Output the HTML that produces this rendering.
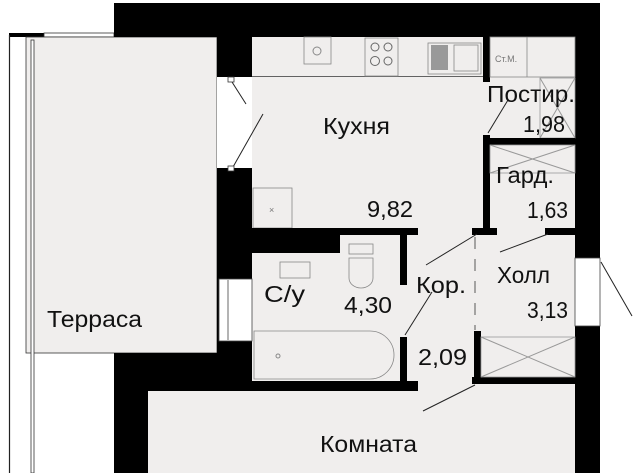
<!DOCTYPE html>
<html><head><meta charset="utf-8"><style>
html,body{margin:0;padding:0;background:#fff;}
svg{display:block}
text{font-family:"Liberation Sans",sans-serif;fill:#111;font-size:23px}
</style></head><body>
<svg width="640" height="473" viewBox="0 0 640 473" xmlns="http://www.w3.org/2000/svg">
<!-- terrace -->
<rect x="9" y="33" width="105" height="4" fill="#000"/>
<rect x="44" y="33" width="70" height="4" fill="#fff" stroke="#333" stroke-width="0.8"/>
<line x1="9.5" y1="35" x2="9.5" y2="473" stroke="#222" stroke-width="1.2"/>
<rect x="26" y="37" width="191" height="316" fill="#f0eeed" stroke="#333" stroke-width="0.8"/>
<rect x="31" y="40" width="3" height="433" fill="#fff" stroke="#333" stroke-width="0.8"/>
<!-- rooms fill -->
<rect x="252" y="37" width="323" height="436" fill="#f0eeed"/>
<rect x="148" y="384" width="427" height="89" fill="#f0eeed"/>
<!-- top wall -->
<rect x="114" y="3" width="486" height="34" fill="#000"/>
<!-- right wall -->
<rect x="575" y="3" width="25" height="255" fill="#000"/>
<rect x="575" y="326" width="25" height="147" fill="#000"/>
<rect x="575" y="258" width="25" height="68" fill="#fff" stroke="#444" stroke-width="0.8"/>
<line x1="601" y1="262" x2="632" y2="316" stroke="#222" stroke-width="1"/>
<!-- kitchen left wall -->
<rect x="217" y="37" width="35" height="40" fill="#000"/>
<rect x="217" y="168" width="35" height="185" fill="#000"/>
<rect x="217" y="77" width="35" height="91" fill="#fff"/>
<line x1="232" y1="82" x2="246" y2="104" stroke="#222" stroke-width="1"/>
<line x1="233" y1="167" x2="263" y2="114" stroke="#222" stroke-width="1"/>
<rect x="228" y="77" width="6" height="5" fill="#fff" stroke="#333" stroke-width="0.8"/>
<rect x="228" y="166" width="6" height="5" fill="#fff" stroke="#333" stroke-width="0.8"/>
<!-- bathroom window -->
<rect x="219" y="279" width="33" height="62" fill="#fff" stroke="#444" stroke-width="0.8"/>
<line x1="228" y1="280" x2="228" y2="340" stroke="#444" stroke-width="0.8"/>
<!-- lower left wall -->
<rect x="114" y="353" width="138" height="38" fill="#000"/>
<rect x="114" y="353" width="34" height="120" fill="#000"/>
<!-- kitchen counter -->
<line x1="252" y1="76.5" x2="483" y2="76.5" stroke="#333" stroke-width="0.8"/>
<rect x="304" y="37" width="27" height="27" fill="none" stroke="#888" stroke-width="0.8"/>
<circle cx="317" cy="51" r="4" fill="none" stroke="#888"/>
<rect x="365" y="38" width="33" height="38" fill="none" stroke="#888" stroke-width="0.8"/>
<circle cx="375" cy="47" r="4" fill="none" stroke="#666"/><circle cx="388" cy="47" r="4" fill="none" stroke="#666"/>
<circle cx="375" cy="61" r="4.5" fill="none" stroke="#666"/><circle cx="388" cy="61" r="4" fill="none" stroke="#666"/>
<rect x="428" y="43" width="53" height="31" fill="none" stroke="#888" stroke-width="0.8"/>
<rect x="431" y="45" width="17" height="25" fill="#999"/>
<rect x="454" y="45" width="24" height="26" fill="none" stroke="#888" stroke-width="0.8"/>
<rect x="253" y="188" width="39" height="40" fill="none" stroke="#888" stroke-width="0.8"/>
<text x="269" y="213" style="font-size:9px;fill:#777">×</text>
<!-- kitchen/postir wall -->
<rect x="483" y="37" width="7" height="45" fill="#000"/>
<rect x="483" y="135" width="7" height="100" fill="#000"/>
<line x1="488" y1="133" x2="508" y2="100" stroke="#222" stroke-width="1"/>
<rect x="490" y="37" width="85" height="40" fill="none" stroke="#888" stroke-width="0.8"/>
<line x1="527" y1="37" x2="527" y2="77" stroke="#888" stroke-width="0.8"/>
<text x="495" y="62" style="font-size:9px;fill:#777">Ст.М.</text>
<rect x="540" y="78" width="35" height="60" fill="none" stroke="#999" stroke-width="0.8"/>
<line x1="540" y1="78" x2="575" y2="138" stroke="#999"/><line x1="575" y1="78" x2="540" y2="138" stroke="#999"/>
<rect x="487" y="138" width="88" height="7" fill="#000"/>
<rect x="490" y="145" width="85" height="28" fill="none" stroke="#999" stroke-width="0.8"/>
<line x1="490" y1="145" x2="575" y2="173" stroke="#999"/><line x1="575" y1="145" x2="490" y2="173" stroke="#999"/>
<!-- kitchen bottom wall -->
<rect x="252" y="228" width="166" height="7" fill="#000"/>
<rect x="252" y="228" width="88" height="25" fill="#000"/>
<rect x="472" y="228" width="25" height="7" fill="#000"/>
<rect x="545" y="228" width="30" height="7" fill="#000"/>
<line x1="426" y1="265" x2="477" y2="234" stroke="#222" stroke-width="1"/>
<line x1="500" y1="252" x2="548" y2="234" stroke="#222" stroke-width="1"/>
<line x1="475" y1="237" x2="475" y2="330" stroke="#333" stroke-width="0.8" stroke-dasharray="12,10"/>
<!-- bathroom -->
<rect x="400" y="228" width="7" height="57" fill="#000"/>
<rect x="400" y="337" width="7" height="54" fill="#000"/>
<line x1="405" y1="335" x2="432" y2="292" stroke="#222" stroke-width="1"/>
<rect x="280" y="262" width="30" height="16" fill="none" stroke="#888" stroke-width="0.8"/>
<rect x="349" y="244" width="24" height="10" fill="none" stroke="#888" stroke-width="0.8"/>
<path d="M349 258 h24 v20 a12 10 0 0 1 -24 0 z" fill="none" stroke="#888" stroke-width="0.8"/>
<path d="M254 331 h116 a12 12 0 0 1 0 48 h-116 z" fill="none" stroke="#888" stroke-width="0.8"/>
<circle cx="278" cy="356" r="2" fill="none" stroke="#888"/>
<rect x="252" y="381" width="166" height="10" fill="#000"/>
<rect x="472" y="377" width="103" height="7" fill="#000"/>
<line x1="423" y1="411" x2="475" y2="385" stroke="#222" stroke-width="1"/>
<!-- hall wardrobe -->
<rect x="474" y="331" width="7" height="53" fill="#000"/>
<rect x="481" y="337" width="94" height="40" fill="none" stroke="#999" stroke-width="0.8"/>
<line x1="481" y1="337" x2="575" y2="377" stroke="#999"/><line x1="575" y1="337" x2="481" y2="377" stroke="#999"/>
<!-- labels -->
<text x="323" y="134" textLength="67" lengthAdjust="spacingAndGlyphs">Кухня</text>
<text x="367" y="217" textLength="46" lengthAdjust="spacingAndGlyphs">9,82</text>
<text x="487" y="102" textLength="88" lengthAdjust="spacingAndGlyphs">Постир.</text>
<text x="523" y="132" textLength="42" lengthAdjust="spacingAndGlyphs">1,98</text>
<text x="496" y="183" textLength="58" lengthAdjust="spacingAndGlyphs">Гард.</text>
<text x="527" y="218" textLength="41" lengthAdjust="spacingAndGlyphs">1,63</text>
<text x="264" y="302" textLength="41" lengthAdjust="spacingAndGlyphs">С/у</text>
<text x="344" y="313" textLength="48" lengthAdjust="spacingAndGlyphs">4,30</text>
<text x="416" y="293" textLength="50" lengthAdjust="spacingAndGlyphs">Кор.</text>
<text x="418" y="365" textLength="49" lengthAdjust="spacingAndGlyphs">2,09</text>
<text x="497" y="283" textLength="53" lengthAdjust="spacingAndGlyphs">Холл</text>
<text x="527" y="318" textLength="41" lengthAdjust="spacingAndGlyphs">3,13</text>
<text x="47" y="327" textLength="95" lengthAdjust="spacingAndGlyphs">Терраса</text>
<text x="320" y="452" textLength="97" lengthAdjust="spacingAndGlyphs">Комната</text>
</svg>
</body></html>
